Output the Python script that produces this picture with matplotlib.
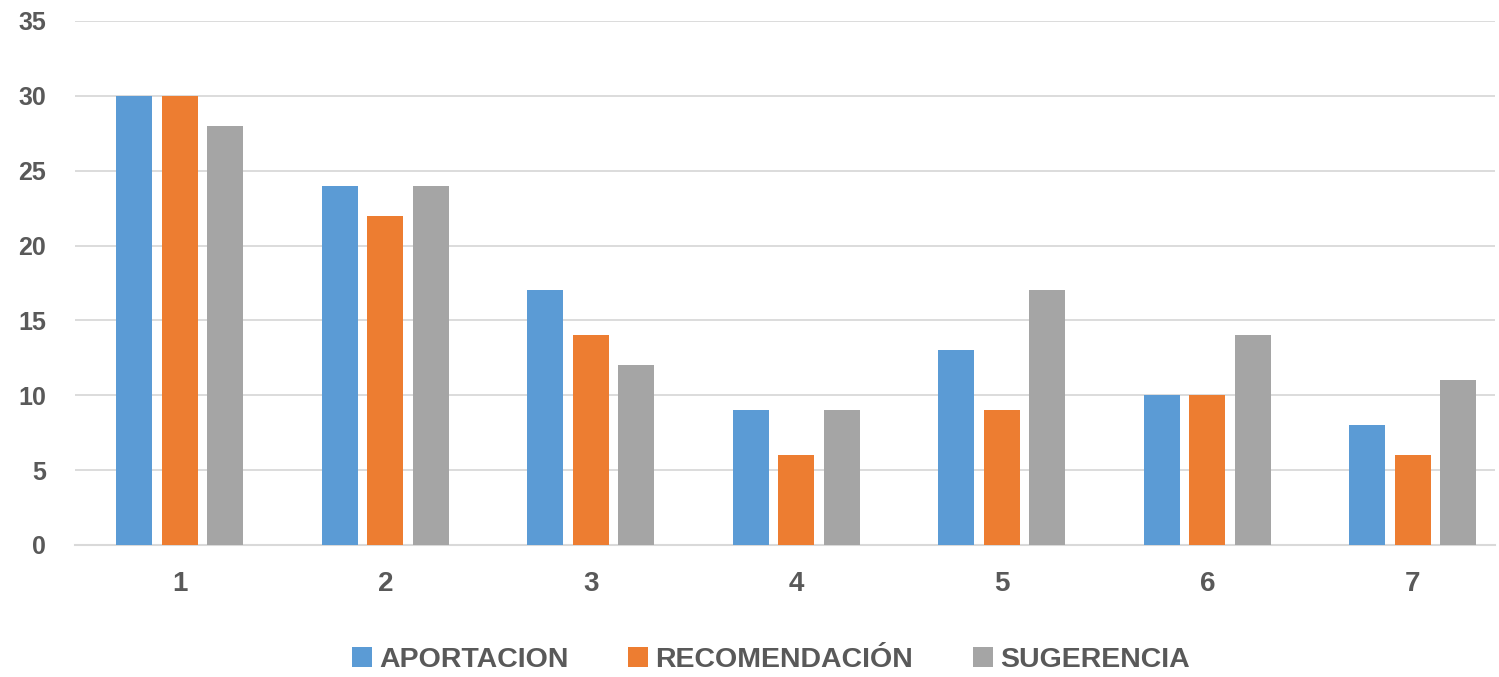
import matplotlib.pyplot as plt
import numpy as np

categorias = ["1", "2", "3", "4", "5", "6", "7"]
aportacion = [30, 24, 17, 9, 13, 10, 8]
recomendacion = [30, 22, 14, 6, 9, 10, 6]
sugerencia = [28, 24, 12, 9, 17, 14, 11]
series = ["APORTACION", "RECOMENDACIÓN", "SUGERENCIA"]
colores = ["#5B9BD5", "#ED7D31", "#A5A5A5"]

plt.rcParams['font.family'] = ['Liberation Sans', 'DejaVu Sans']

fig = plt.figure(figsize=(14.99, 6.77), dpi=100)
ax = fig.add_axes([75 / 1499, 1 - 545 / 677, 1420 / 1499, 524 / 677])

x = np.arange(1, len(categorias) + 1)
ancho = 0.175
paso = 0.221
for i, (vals, nombre, color) in enumerate(zip([aportacion, recomendacion, sugerencia], series, colores)):
    ax.bar(x + (i - 1) * paso, vals, width=ancho, color=color, label=nombre, zorder=3)

ax.set_ylim(0, 35)
ax.set_xlim(0.49, 7.4)
ax.set_yticks(range(0, 36, 5))
ax.set_xticks(x)
ax.set_xticklabels(categorias)
ax.grid(axis='y', color='#D9D9D9', linewidth=1.3, zorder=0)
for s in ['top', 'right', 'left']:
    ax.spines[s].set_visible(False)
ax.spines['bottom'].set_color('#D9D9D9')
ax.spines['bottom'].set_linewidth(1.5)
ax.tick_params(axis='both', length=0, colors='#595959')
ax.tick_params(axis='x', pad=19, labelsize=20)
ax.tick_params(axis='y', pad=21, labelsize=18)
for lbl in ax.get_xticklabels() + ax.get_yticklabels():
    lbl.set_fontweight('bold')

leg = fig.legend(loc='center', bbox_to_anchor=(771 / 1499, 1 - 660 / 677), ncol=3,
                 frameon=False, prop={'size': 20.5, 'weight': 'bold'},
                 handlelength=0.7, handleheight=0.7, handletextpad=0.25, columnspacing=2.1)
for t in leg.get_texts():
    t.set_color('#595959')

fig.savefig('out.png', dpi=100)
